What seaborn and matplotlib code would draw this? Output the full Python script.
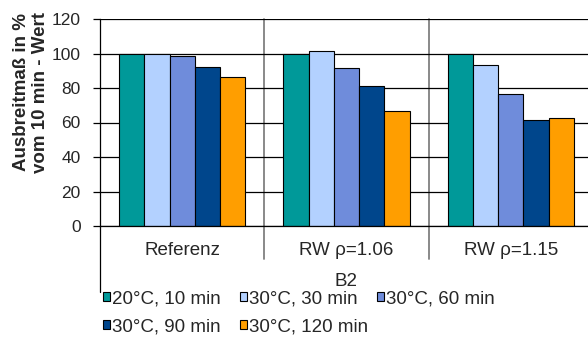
import matplotlib
matplotlib.use('Agg')
import matplotlib.pyplot as plt
import numpy as np
import pandas as pd
import seaborn as sns

# data
groups = ['Referenz', 'RW ρ=1.06', 'RW ρ=1.15']
series = ['20°C, 10 min', '30°C, 30 min', '30°C, 60 min', '30°C, 90 min', '30°C, 120 min']
val_10min_20 = [100, 100, 100]
val_30min = [100, 101.5, 93.5]
val_60min = [98.5, 91.5, 76.5]
val_90min = [92, 81, 61.5]
val_120min = [86.5, 66.5, 62.5]
colors = ['#009999', '#B3D1FF', '#6F8CDB', '#00468C', '#FF9E00']

values = [val_10min_20, val_30min, val_60min, val_90min, val_120min]
rows = []
for s, vals in zip(series, values):
    for g, v in zip(groups, vals):
        rows.append({'group': g, 'series': s, 'value': v})
df = pd.DataFrame(rows)

sns.set_style('white')
plt.rcParams['font.family'] = ['Liberation Sans', 'DejaVu Sans']

fig = plt.figure(figsize=(5.88, 3.38), dpi=100)
ax = fig.add_axes([100 / 588, 1 - 226 / 338, 493 / 588, 207 / 338])

sns.barplot(data=df, x='group', y='value', hue='series', palette=colors,
            width=0.77, edgecolor='black', linewidth=0.8, saturation=1, ax=ax)

ax.set_ylim(0, 120)
ax.set_xlim(-0.5, 2.5)
ax.set_yticks(np.arange(0, 121, 20))
ax.yaxis.grid(True, color='black', linewidth=0.9)
ax.set_axisbelow(True)
for sp in ['top', 'right']:
    ax.spines[sp].set_visible(False)
ax.spines['left'].set_color('black')
ax.spines['bottom'].set_color('black')
ax.spines['left'].set_linewidth(0.9)
ax.spines['bottom'].set_linewidth(0.9)

# group dividers, extended below the axis
trans = ax.get_xaxis_transform()
for xd in [0.5, 1.5]:
    ax.plot([xd, xd], [1, -0.16], color='#808080', linewidth=1.3,
            transform=trans, clip_on=False, zorder=0)
ax.plot([-0.5, -0.5], [0, -0.32], color='black', linewidth=0.9,
        transform=trans, clip_on=False)

ax.tick_params(axis='y', direction='out', length=5, width=0.9, color='black',
               labelsize=12.5, pad=9, left=True)
ax.tick_params(axis='x', length=0, labelsize=13.5, pad=11.5)
ax.set_ylabel('')
ax.set_xlabel('B2', fontsize=13.5, labelpad=10)

fig.text(31 / 588, 1 - 92 / 338, 'Ausbreitmaß in %\nvom 10 min - Wert',
         rotation=90, ha='center', va='center', fontsize=13.5,
         fontweight='bold', multialignment='center', linespacing=1.15)

handles, labels = ax.get_legend_handles_labels()
ax.get_legend().remove()
# one legend per column so the columns sit where the reference has them
col_x = [103, 240, 377]
col_items = [[0, 3], [1, 4], [2]]
for cx, items in zip(col_x, col_items):
    fig.legend([handles[i] for i in items], [labels[i] for i in items],
               loc='upper left', bbox_to_anchor=(cx / 588, 1 - 290 / 338),
               frameon=False, fontsize=13.5, handlelength=0.35, handleheight=0.35,
               handletextpad=0.15, labelspacing=0.62, borderaxespad=0,
               borderpad=0)

fig.savefig('out.png', dpi=100)
